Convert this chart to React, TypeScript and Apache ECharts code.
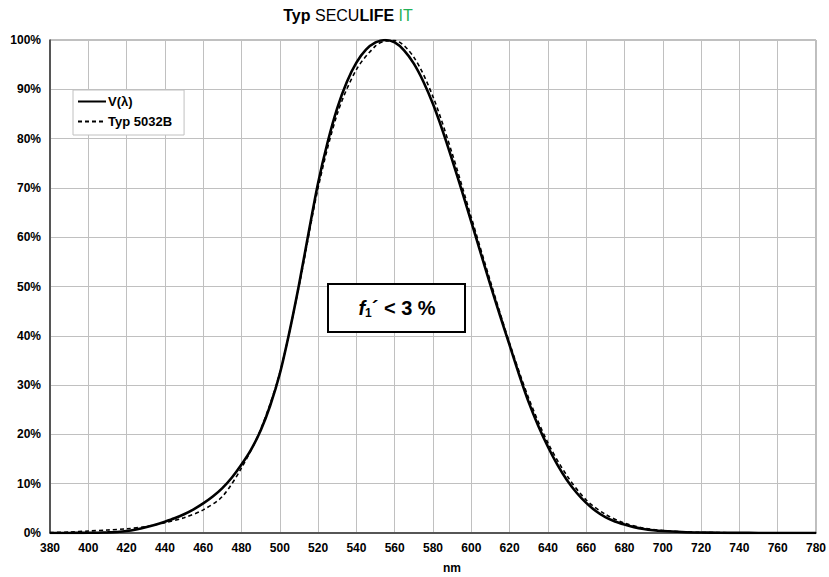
import React, { useEffect, useRef } from "react";
import * as echarts from "echarts";

const TITLE_PARTS = ["Typ ", "SECU", "LIFE", " IT"];
const SERIES_NAMES = ["V(λ)", "Typ 5032B"];

const V_NM = [380, 385, 390, 395, 400, 405, 410, 415, 420, 425, 430, 435, 440, 445, 450, 455, 460, 465, 470, 475, 480, 485, 490, 495, 500, 505, 510, 515, 520, 525, 530, 535, 540, 545, 550, 555, 560, 565, 570, 575, 580, 585, 590, 595, 600, 605, 610, 615, 620, 625, 630, 635, 640, 645, 650, 655, 660, 665, 670, 675, 680, 685, 690, 695, 700, 710, 720, 730, 740, 750, 760, 770, 780];
const V_PCT = [0.004, 0.006, 0.012, 0.022, 0.04, 0.064, 0.121, 0.218, 0.4, 0.73, 1.16, 1.68, 2.3, 2.98, 3.8, 4.8, 6.0, 7.39, 9.1, 11.26, 13.9, 16.93, 20.8, 25.86, 32.3, 40.73, 50.3, 60.82, 71.0, 79.32, 86.2, 91.49, 95.4, 98.03, 99.5, 100.0, 99.5, 97.86, 95.2, 91.54, 87.0, 81.63, 75.7, 69.49, 63.1, 56.68, 50.3, 44.12, 38.1, 32.1, 26.5, 21.7, 17.5, 13.82, 10.7, 8.16, 6.1, 4.46, 3.2, 2.32, 1.7, 1.19, 0.82, 0.57, 0.41, 0.21, 0.1, 0.05, 0.025, 0.012, 0.006, 0.003, 0.0015];

const D_NM = [380, 390, 400, 410, 420, 430, 440, 450, 460, 470, 480, 490, 500, 510, 520, 530, 540, 550, 555, 560, 570, 580, 590, 600, 610, 620, 630, 640, 650, 660, 670, 680, 690, 700, 710, 720, 740, 760, 780];
const D_PCT = [0.1, 0.2, 0.4, 0.6, 0.85, 1.3, 2.1, 3.1, 4.7, 7.4, 13.2, 21, 32.5, 50, 70, 85, 94, 98.8, 99.8, 99.9, 96.5, 88.5, 77, 64, 51, 38.5, 27.3, 18.3, 11.6, 6.7, 3.8, 2.0, 1.0, 0.5, 0.25, 0.12, 0.05, 0.02, 0.01];

const X_MIN = 380;
const X_MAX = 780;
const X_STEP = 20;
const Y_MIN = 0;
const Y_MAX = 100;
const Y_STEP = 10;

const FONT = "'Liberation Sans', Arial, sans-serif";

export default function App() {
  const ref = useRef<HTMLDivElement>(null);
  useEffect(() => {
    if (!ref.current) return;
    const chart = echarts.init(ref.current, null, { renderer: "svg" });
    const solid = V_NM.map((x, i) => [x, V_PCT[i]]);
    const dashed = D_NM.map((x, i) => [x, D_PCT[i]]);
    chart.setOption({
      animation: false,
      backgroundColor: "#fff",
      textStyle: { fontFamily: FONT },
      grid: {
        left: 50,
        right: 13,
        top: 40,
        bottom: 44,
        show: true,
        borderColor: "#808080",
        borderWidth: 1,
      },
      xAxis: {
        type: "value",
        min: X_MIN,
        max: X_MAX,
        interval: X_STEP,
        axisLine: { show: true, lineStyle: { color: "#333", width: 1.5 } },
        axisTick: { show: false },
        axisLabel: { color: "#000", fontWeight: "bold", fontSize: 12, margin: 9, fontFamily: FONT },
        splitLine: { show: true, lineStyle: { color: "#c0c0c0", width: 1 } },
      },
      yAxis: {
        type: "value",
        min: Y_MIN,
        max: Y_MAX,
        interval: Y_STEP,
        axisLine: { show: true, lineStyle: { color: "#333", width: 1.5 } },
        axisTick: { show: false },
        axisLabel: { color: "#000", fontWeight: "bold", fontSize: 12, margin: 9, formatter: "{value}%", fontFamily: FONT },
        splitLine: { show: true, lineStyle: { color: "#c0c0c0", width: 1 } },
      },
      legend: {
        orient: "vertical",
        left: 73,
        top: 90,
        padding: [5, 12, 7, 4],
        itemGap: 7,
        itemWidth: 28,
        itemHeight: 14,
        borderColor: "#c0c0c0",
        borderWidth: 1,
        backgroundColor: "#fff",
        itemStyle: { color: "transparent", borderColor: "transparent", borderWidth: 0, opacity: 0 },
        textStyle: { color: "#000", fontWeight: "bold", fontSize: 13, fontFamily: FONT, padding: [0, 0, 0, -3] },
        data: SERIES_NAMES,
      },
      series: [
        {
          name: SERIES_NAMES[0],
          type: "line",
          data: solid,
          smooth: 0.3,
          symbol: "none",
          lineStyle: { color: "#000", width: 2.6 },
          itemStyle: { color: "#000" },
          z: 3,
        },
        {
          name: SERIES_NAMES[1],
          type: "line",
          data: dashed,
          smooth: 0.3,
          symbol: "none",
          lineStyle: { color: "#000", width: 1.6, type: [4, 3] },
          itemStyle: { color: "#000" },
          z: 4,
        },
      ],
      graphic: [
        {
          type: "text",
          x: 348,
          y: 15,
          style: {
            text: `{a|${TITLE_PARTS[0]}}{b|${TITLE_PARTS[1]}}{a|${TITLE_PARTS[2]}}{c|${TITLE_PARTS[3]}}`,
            align: "center",
            verticalAlign: "middle",
            rich: {
              a: { fontFamily: FONT, fontSize: 16, fontWeight: "bold", fill: "#000" },
              b: { fontFamily: FONT, fontSize: 16, fontWeight: "normal", fill: "#000" },
              c: { fontFamily: FONT, fontSize: 16, fontWeight: "normal", fill: "#22b055" },
            },
          },
        },
        {
          type: "text",
          x: 452,
          y: 568,
          style: {
            text: "nm",
            align: "center",
            verticalAlign: "middle",
            fontFamily: FONT,
            fontSize: 12,
            fontWeight: "bold",
            fill: "#000",
          },
        },
        {
          type: "rect",
          shape: { x: 328, y: 284, width: 137, height: 48 },
          style: { fill: "#fff", stroke: "#000", lineWidth: 2 },
          z: 100,
        },
        {
          type: "text",
          x: 397,
          y: 308,
          z: 101,
          style: {
            text: "{f|f}{s|1}{t|´ < 3 %}",
            align: "center",
            verticalAlign: "middle",
            rich: {
              f: { fontFamily: FONT, fontSize: 20, fontWeight: "bold", fontStyle: "italic", fill: "#000" },
              s: { fontFamily: FONT, fontSize: 12, fontWeight: "bold", fill: "#000", padding: [9, 0, 0, 0] },
              t: { fontFamily: FONT, fontSize: 20, fontWeight: "bold", fill: "#000" },
            },
          },
        },
      ],
    });
    return () => chart.dispose();
  }, []);
  return <div ref={ref} style={{ width: 829, height: 577, position: "absolute", left: 0, top: 0 }} />;
}
